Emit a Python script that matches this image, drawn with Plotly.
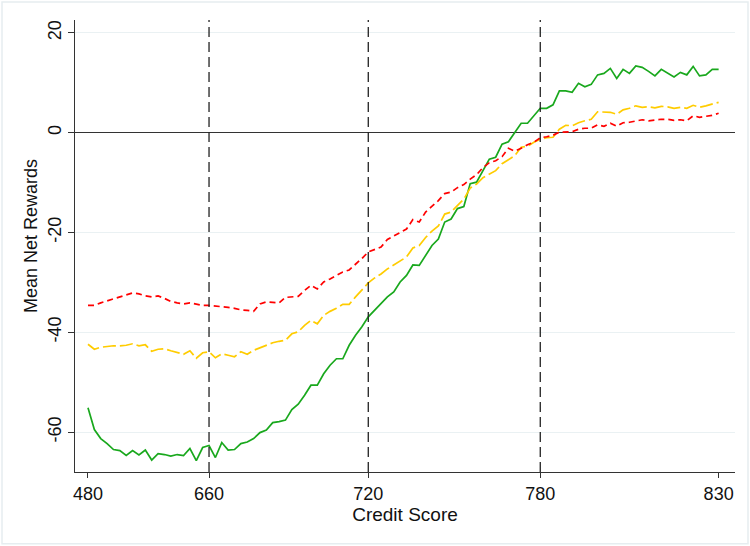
import plotly.graph_objects as go

# ---- data ----
n_points = 100
x_index = list(range(n_points))
tick_index = [0, 19, 44, 71, 99]
tick_scores = ["480", "660", "720", "780", "830"]
cutoff_index = [19, 44, 71]  # 660, 720, 780

green = [-55.1, -59.5, -61.3, -62.3, -63.5, -63.7, -64.7, -63.7, -64.6, -63.6,
         -65.6, -64.3, -64.5, -64.8, -64.5, -64.7, -63.3, -65.7, -63.1, -62.7,
         -65.1, -62.1, -63.6, -63.5, -62.3, -62.0, -61.3, -60.1, -59.6, -58.1,
         -57.9, -57.6, -55.5, -54.4, -52.6, -50.6, -50.6, -48.3, -46.6, -45.3,
         -45.3, -42.6, -40.6, -38.9, -36.9, -35.5, -34.1, -32.9, -31.9, -29.9,
         -28.6, -26.5, -26.6, -24.6, -22.6, -21.3, -17.9, -17.3, -15.2, -14.8,
         -10.2, -9.9, -7.6, -5.3, -4.9, -2.3, -1.8, 0.0, 1.9, 1.9,
         3.5, 4.9, 4.9, 5.6, 8.4, 8.4, 8.1, 9.9, 9.2, 9.7,
         11.6, 11.9, 12.9, 10.9, 12.7, 11.9, 13.4, 13.1, 12.3, 11.4,
         12.7, 12.0, 11.2, 12.1, 11.6, 13.3, 11.4, 11.6, 12.7, 12.7]

red = [-34.6, -34.6, -34.1, -33.7, -33.2, -32.8, -32.4, -32.1, -32.3, -32.7,
       -32.9, -32.7, -33.2, -33.8, -34.1, -34.3, -34.1, -34.4, -34.6, -34.6,
       -34.7, -34.8, -35.0, -35.2, -35.5, -35.6, -35.8, -34.3, -33.9, -34.0,
       -34.1, -33.0, -32.9, -32.8, -31.6, -30.6, -31.3, -29.9, -29.3, -28.6,
       -27.9, -27.5, -26.4, -25.2, -23.9, -23.4, -22.9, -21.4, -20.7, -20.0,
       -19.3, -17.4, -17.9, -15.9, -14.8, -13.6, -12.2, -11.9, -11.0, -10.4,
       -9.3, -8.4, -7.0, -6.0, -5.6, -4.8, -3.1, -3.7, -3.1, -2.4,
       -1.9, -1.0, -0.8, -0.5, 0.1, 0.2, 0.2, 0.7, 0.9, 0.9,
       1.6, 1.3, 1.9, 1.3, 2.0, 2.1, 2.4, 2.6, 2.4, 2.6,
       2.7, 2.7, 2.5, 2.6, 2.4, 3.4, 3.1, 3.3, 3.5, 3.9]

yellow = [-42.4, -43.4, -43.0, -42.8, -42.7, -42.7, -42.6, -42.3, -42.7, -42.5,
          -43.8, -43.4, -43.3, -43.7, -44.1, -44.4, -43.7, -45.2, -44.1, -43.9,
          -45.1, -44.3, -44.6, -44.9, -43.9, -44.4, -43.6, -43.1, -42.5, -42.1,
          -41.8, -41.6, -40.3, -39.9, -38.6, -37.6, -38.3, -36.6, -35.8, -35.2,
          -34.4, -34.4, -32.9, -31.4, -30.1, -29.1, -28.3, -27.3, -26.5, -25.7,
          -24.9, -23.1, -22.6, -21.0, -19.7, -18.7, -16.3, -15.9, -14.5, -13.3,
          -11.1, -10.3, -9.0, -8.3, -7.6, -6.2, -5.4, -4.6, -2.9, -2.7,
          -1.9, -1.3, -1.0, -0.9, 0.7, 1.5, 1.4, 2.0, 2.4, 2.7,
          4.2, 4.1, 4.1, 3.7, 4.6, 4.9, 5.4, 5.1, 5.2, 5.0,
          5.3, 5.2, 4.9, 5.1, 4.9, 5.5, 5.1, 5.4, 5.7, 6.1]

y_ticks = [-60, -40, -20, 0, 20]

# ---- figure ----
fig = go.Figure()
fig.add_trace(go.Scatter(x=x_index, y=green, mode="lines",
                         line=dict(color="#19a81d", width=1.7), showlegend=False))
fig.add_trace(go.Scatter(x=x_index, y=yellow, mode="lines",
                         line=dict(color="#ffcc00", width=1.7, dash="13px,4px"), showlegend=False))
fig.add_trace(go.Scatter(x=x_index, y=red, mode="lines",
                         line=dict(color="#ff0000", width=1.7, dash="6px,4px"), showlegend=False))

shapes = []
for c in cutoff_index:
    shapes.append(dict(type="line", xref="x", yref="paper", x0=c, x1=c, y0=0, y1=1,
                       line=dict(color="#222222", width=1.3, dash="10px,5px"), layer="above"))
# outer graph-region border
shapes.append(dict(type="rect", xref="paper", yref="paper",
                   x0=-0.1106, x1=1.0197, y0=-0.159, y1=1.0398,
                   line=dict(color="#e6edf0", width=1.5), fillcolor="rgba(0,0,0,0)", layer="below"))

fig.update_layout(
    width=750, height=546,
    margin=dict(l=75, r=15, t=20, b=74),
    paper_bgcolor="white", plot_bgcolor="white",
    font=dict(family="Liberation Sans, Arial, sans-serif", size=18, color="#111111"),
    shapes=shapes,
    annotations=[dict(text="Mean Net Rewards", xref="paper", yref="paper",
                      x=(31 - 75) / 660, y=(472 - 236) / 452, textangle=-90,
                      showarrow=False, xanchor="center", yanchor="middle",
                      font=dict(size=18))],
    xaxis=dict(
        range=[-2.04, 101.57],
        tickmode="array", tickvals=tick_index, ticktext=tick_scores,
        ticks="outside", ticklen=5, tickwidth=1, tickcolor="#333333",
        showline=True, linecolor="#333333", linewidth=1.2,
        showgrid=False, zeroline=False,
        title=dict(text="Credit Score", standoff=0, font=dict(size=19)),
        tickfont=dict(size=18),
    ),
    yaxis=dict(
        range=[-68.0, 22.6],
        tickmode="array", tickvals=y_ticks, ticktext=[str(v) for v in y_ticks],
        tickangle=-90,
        ticks="outside", ticklen=6, tickwidth=1, tickcolor="#333333",
        showline=True, linecolor="#333333", linewidth=1.2,
        showgrid=True, gridcolor="#eaf1f3", gridwidth=1.2,
        zeroline=True, zerolinecolor="#333333", zerolinewidth=1.3,
        tickfont=dict(size=18),
    ),
)

fig.write_html("out.html")
